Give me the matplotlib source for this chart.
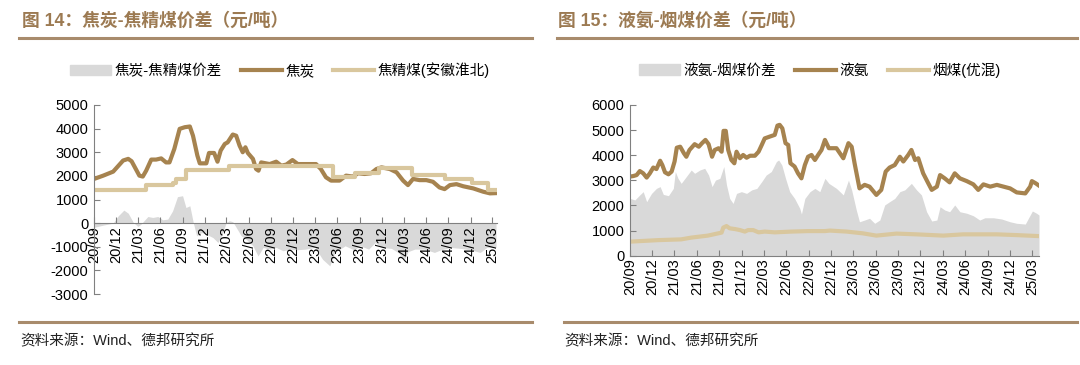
import pandas as pd
import matplotlib.pyplot as plt
import matplotlib.dates as mdates
from matplotlib.lines import Line2D
from matplotlib.patches import Patch

plt.rcParams['font.family'] = ['Liberation Sans', 'Noto Sans CJK SC']
plt.rcParams['axes.unicode_minus'] = False

# ---- data: chart 14 ----
coke_dates = ['2020-09-01', '2020-10-09', '2020-11-19', '2020-12-30', '2021-01-20', '2021-02-03',
              '2021-03-07', '2021-03-21', '2021-04-04', '2021-04-25', '2021-05-15', '2021-06-05',
              '2021-06-25', '2021-07-09', '2021-07-29', '2021-08-20', '2021-09-10', '2021-10-01',
              '2021-10-14', '2021-11-01', '2021-11-11', '2021-12-08', '2021-12-19', '2022-01-09',
              '2022-01-23', '2022-02-05', '2022-02-22', '2022-03-06', '2022-03-27', '2022-04-10',
              '2022-04-24', '2022-05-07', '2022-05-18', '2022-05-28', '2022-06-18', '2022-07-01',
              '2022-07-11', '2022-07-22', '2022-08-26', '2022-09-22', '2022-10-13', '2022-11-03',
              '2022-11-28', '2022-12-20', '2023-03-05', '2023-03-25', '2023-04-15', '2023-05-06',
              '2023-06-10', '2023-07-07', '2023-08-04', '2023-08-25', '2023-09-21', '2023-10-18',
              '2023-11-09', '2023-11-30', '2024-01-03', '2024-01-31', '2024-02-27', '2024-03-18',
              '2024-04-08', '2024-05-05', '2024-06-02', '2024-06-29', '2024-07-26', '2024-08-16',
              '2024-09-07', '2024-10-04', '2024-11-01', '2024-12-12', '2025-01-22', '2025-02-19',
              '2025-03-16']
coke = [1870, 2010, 2180, 2650, 2720, 2620,
        2010, 1970, 2220, 2690, 2690, 2740,
        2570, 2570, 3140, 3990, 4060, 4090,
        3700, 2860, 2530, 2530, 2970, 2970,
        2600, 3070, 3350, 3420, 3750, 3700,
        3280, 3000, 3210, 2970, 2720, 2290,
        2220, 2570, 2500, 2600, 2430, 2480,
        2670, 2500, 2500, 2290, 1940, 1800,
        1800, 2010, 1970, 2110, 2080, 2110,
        2290, 2360, 2290, 2150, 1800, 1610,
        1870, 1820, 1820, 1750, 1510, 1440,
        1610, 1650, 1560, 1470, 1330, 1260,
        1270]

coal_dates = ['2020-09-01', '2021-04-04', '2021-07-22', '2021-08-05', '2021-09-14', '2022-03-13',
              '2023-05-13', '2023-08-11', '2023-11-20', '2024-04-05', '2024-08-16', '2024-12-05',
              '2025-02-12', '2025-03-16']
coal = [1390, 1610, 1700, 1850, 2260, 2430,
        1940, 2120, 2320, 2050, 1870, 1680,
        1400, 1400]

spread1_dates = ['2020-09-01', '2020-10-09', '2020-11-19', '2020-12-10', '2021-01-02', '2021-01-20',
                 '2021-02-10', '2021-03-01', '2021-03-14', '2021-04-11', '2021-05-01', '2021-05-22',
                 '2021-06-11', '2021-07-02', '2021-07-22', '2021-08-11', '2021-09-01', '2021-09-15',
                 '2021-10-01', '2021-10-15', '2021-10-29', '2021-11-18', '2021-12-08', '2022-01-04',
                 '2022-01-25', '2022-02-14', '2022-02-28', '2022-03-13', '2022-03-27', '2022-04-10',
                 '2022-05-01', '2022-05-21', '2022-06-18', '2022-07-09', '2022-07-30', '2022-08-26',
                 '2022-09-22', '2022-10-20', '2022-11-17', '2022-12-15', '2023-01-20', '2023-03-01',
                 '2023-04-01', '2023-05-01', '2023-05-22', '2023-06-12', '2023-07-03', '2023-08-08',
                 '2023-09-04', '2023-10-08', '2023-11-04', '2023-12-01', '2024-01-10', '2024-02-06',
                 '2024-03-04', '2024-03-18', '2024-04-15', '2024-05-25', '2024-07-05', '2024-08-01',
                 '2024-09-11', '2024-10-22', '2024-12-01', '2025-01-10', '2025-02-06', '2025-03-16']
spread1 = [-180, -85, 0, 310, 550, 420,
           30, -140, -40, 280, 240, 280,
           140, 170, 520, 1120, 1160, 660,
           735, 30, -540, -400, -470, -610,
           -820, -400, 30, 100, 60, -180,
           -540, -680, -960, -1390, -1030, -1100,
           -1030, -1170, -1100, -1130, -1100, -1030,
           -1530, -1810, -1240, -1100, -960, -1130,
           -960, -1100, -820, -1030, -1070, -1240,
           -1530, -1210, -1100, -1100, -1240, -1130,
           -1030, -1070, -1130, -1240, -1030, -1030]

# ---- data: chart 15 ----
ammonia_dates = ['2020-09-01', '2020-09-14', '2020-09-28', '2020-10-11', '2020-10-25', '2020-11-08',
                 '2020-11-21', '2020-12-05', '2020-12-18', '2021-01-02', '2021-01-11', '2021-01-22',
                 '2021-02-05', '2021-02-18', '2021-03-02', '2021-03-11', '2021-03-25', '2021-04-09',
                 '2021-04-19', '2021-05-02', '2021-05-23', '2021-06-09', '2021-06-22', '2021-07-06',
                 '2021-07-19', '2021-08-02', '2021-08-13', '2021-08-29', '2021-09-10', '2021-09-18',
                 '2021-09-27', '2021-10-07', '2021-10-20', '2021-11-01', '2021-11-10', '2021-11-24',
                 '2021-12-07', '2021-12-21', '2022-01-04', '2022-01-24', '2022-02-08', '2022-02-21',
                 '2022-03-05', '2022-03-25', '2022-04-15', '2022-04-26', '2022-05-05', '2022-05-16',
                 '2022-05-29', '2022-06-09', '2022-06-18', '2022-07-05', '2022-07-19', '2022-08-02',
                 '2022-08-16', '2022-08-29', '2022-09-12', '2022-09-26', '2022-10-09', '2022-10-23',
                 '2022-11-06', '2022-11-22', '2022-12-23', '2023-01-20', '2023-02-10', '2023-02-23',
                 '2023-03-07', '2023-03-27', '2023-04-17', '2023-05-07', '2023-06-04', '2023-06-24',
                 '2023-07-12', '2023-07-28', '2023-08-18', '2023-09-08', '2023-09-22', '2023-10-12',
                 '2023-10-25', '2023-11-09', '2023-11-22', '2023-12-12', '2024-01-02', '2024-01-16',
                 '2024-02-06', '2024-02-19', '2024-03-09', '2024-03-29', '2024-04-19', '2024-05-10',
                 '2024-06-07', '2024-07-04', '2024-07-24', '2024-08-14', '2024-09-11', '2024-10-08',
                 '2024-11-04', '2024-12-01', '2024-12-28', '2025-02-01', '2025-02-21', '2025-02-28',
                 '2025-03-16', '2025-03-29']
ammonia = [3150, 3170, 3210, 3370, 3280, 3110,
           3280, 3510, 3450, 3780, 3610, 3320,
           3240, 3350, 3750, 4300, 4340, 4080,
           3940, 4210, 4440, 4340, 4480, 4610,
           4440, 3940, 4210, 4280, 4140, 4970,
           4970, 4210, 3810, 3680, 4140, 3880,
           4010, 3900, 3980, 3980, 4140, 4410,
           4670, 4740, 4810, 5180, 5210, 5070,
           4480, 4410, 3680, 3550, 3280, 3080,
           3610, 3940, 4010, 3810, 4010, 4210,
           4610, 4280, 4280, 3880, 4480, 4340,
           3680, 2680, 2820, 2750, 2420, 2620,
           3350, 3510, 3610, 3940, 3750, 4010,
           4210, 3810, 3880, 3280, 2880, 2620,
           2750, 3210, 3080, 2920, 3280, 3080,
           2970, 2840, 2620, 2840, 2750, 2820,
           2750, 2680, 2520, 2480, 2750, 2970,
           2880, 2790]

coal2_dates = ['2020-09-01', '2020-12-25', '2021-03-29', '2021-05-09', '2021-07-16', '2021-08-27',
               '2021-09-10', '2021-09-17', '2021-09-30', '2021-10-13', '2021-11-04', '2021-11-24',
               '2021-12-14', '2021-12-27', '2022-01-17', '2022-02-08', '2022-03-05', '2022-04-15',
               '2022-06-22', '2022-08-29', '2022-11-06', '2022-11-26', '2023-02-03', '2023-04-10',
               '2023-06-04', '2023-08-25', '2023-11-15', '2024-03-03', '2024-05-23', '2024-10-08',
               '2024-12-28', '2025-03-29']
coal2 = [560, 620, 650, 720, 800, 890,
         920, 1120, 1180, 1090, 1060, 1020,
         960, 1020, 1020, 930, 960, 930,
         960, 980, 980, 1000, 960, 890,
         800, 880, 850, 800, 850, 850,
         820, 780]

spread2_dates = ['2020-09-01', '2020-09-21', '2020-10-11', '2020-10-25', '2020-11-08', '2020-11-28',
                 '2020-12-18', '2021-01-02', '2021-01-15', '2021-02-05', '2021-02-25', '2021-03-05',
                 '2021-03-16', '2021-03-29', '2021-04-19', '2021-05-09', '2021-05-23', '2021-06-13',
                 '2021-07-03', '2021-07-19', '2021-08-02', '2021-08-16', '2021-09-03', '2021-09-19',
                 '2021-09-30', '2021-10-13', '2021-10-27', '2021-11-10', '2021-11-30', '2021-12-21',
                 '2022-01-11', '2022-02-01', '2022-02-21', '2022-03-11', '2022-04-01', '2022-04-22',
                 '2022-05-01', '2022-05-14', '2022-05-29', '2022-06-15', '2022-07-05', '2022-07-26',
                 '2022-08-02', '2022-08-16', '2022-09-06', '2022-09-26', '2022-10-16', '2022-11-06',
                 '2022-11-22', '2022-12-23', '2023-01-20', '2023-02-10', '2023-02-23', '2023-03-14',
                 '2023-03-27', '2023-04-17', '2023-05-07', '2023-05-28', '2023-06-18', '2023-07-08',
                 '2023-07-28', '2023-08-18', '2023-09-08', '2023-09-28', '2023-10-25', '2023-11-15',
                 '2023-12-05', '2023-12-26', '2024-01-16', '2024-02-06', '2024-02-19', '2024-03-09',
                 '2024-03-29', '2024-04-19', '2024-05-10', '2024-06-07', '2024-07-04', '2024-07-30',
                 '2024-08-20', '2024-09-24', '2024-10-28', '2024-12-01', '2024-12-28', '2025-02-01',
                 '2025-02-21', '2025-03-02', '2025-03-19', '2025-03-29']
spread2 = [2280, 2220, 2420, 2550, 2150, 2480,
           2680, 2750, 2440, 2390, 2680, 3350,
           3080, 2880, 3150, 3410, 3280, 3410,
           3480, 3210, 2750, 3010, 3080, 3550,
           2820, 2280, 2080, 2480, 2550, 2480,
           2620, 2680, 2950, 3210, 3350, 3750,
           3810, 3610, 3080, 2550, 2280, 1890,
           1660, 2280, 2550, 2680, 2550, 3080,
           2880, 2680, 2420, 3010, 2620, 1820,
           1350, 1420, 1490, 1290, 1420, 2020,
           2150, 2280, 2550, 2620, 2880, 2620,
           2420, 1750, 1380, 1420, 1950, 1820,
           1750, 2020, 1750, 1690, 1590, 1420,
           1510, 1510, 1460, 1350, 1290, 1260,
           1620, 1780, 1690, 1620]

DARK = '#A6834F'
LIGHT = '#D9C79E'
GRAY = '#D9D9D9'
BROWN = '#9C7A52'
RULE = '#A88B6C'

fig = plt.figure(figsize=(10.8, 3.65), dpi=100)


def style_axis(ax, xmax):
    ax.set_xlim(pd.Timestamp('2020-09-01'), pd.Timestamp(xmax))
    ax.xaxis.set_major_locator(mdates.MonthLocator(bymonth=[3, 6, 9, 12]))
    ax.xaxis.set_major_formatter(mdates.DateFormatter('%y/%m'))
    for s in ['top', 'right']:
        ax.spines[s].set_visible(False)
    for s in ['left', 'bottom']:
        ax.spines[s].set_color('#808080')
        ax.spines[s].set_linewidth(0.8)
    ax.tick_params(axis='x', direction='in', length=4, color='#808080', labelsize=10.5,
                   labelrotation=90, pad=2)
    ax.tick_params(axis='y', direction='in', length=4, color='#808080', labelsize=10.5, pad=4)
    for lab in ax.get_xticklabels():
        lab.set_ha('center')


def legend(x, handles, labels):
    fig.legend(handles, labels, loc='center', bbox_to_anchor=(x, 1 - 70 / 365), ncol=3,
               frameon=False, fontsize=10.5, handlelength=2.8, handletextpad=0.25,
               columnspacing=1.3, borderaxespad=0)


# ---- left chart ----
ax1 = fig.add_axes([94 / 1080, 1 - 294 / 365, 403 / 1080, 189 / 365])
ax1.fill_between(pd.to_datetime(spread1_dates), 0, spread1, color=GRAY, lw=0)
ax1.plot(pd.to_datetime(coke_dates), coke, color=DARK, lw=3)
ax1.plot(pd.to_datetime(coal_dates), coal, color=LIGHT, lw=3, drawstyle='steps-post')
ax1.set_ylim(-3000, 5000)
ax1.set_yticks(range(-3000, 5001, 1000))
style_axis(ax1, '2025-03-20')
ax1.spines['bottom'].set_position(('data', 0))

legend(280 / 1080,
       [Patch(color=GRAY), Line2D([], [], color=DARK, lw=3), Line2D([], [], color=LIGHT, lw=3)],
       ['焦炭-焦精煤价差', '焦炭', '焦精煤(安徽淮北)'])

# ---- right chart ----
ax2 = fig.add_axes([630 / 1080, 1 - 255.7 / 365, 409 / 1080, 150.7 / 365])
ax2.fill_between(pd.to_datetime(spread2_dates), 0, spread2, color=GRAY, lw=0)
ax2.plot(pd.to_datetime(ammonia_dates), ammonia, color=DARK, lw=3)
ax2.plot(pd.to_datetime(coal2_dates), coal2, color=LIGHT, lw=3)
ax2.set_ylim(0, 6000)
ax2.set_yticks(range(0, 6001, 1000))
style_axis(ax2, '2025-03-29')

legend(820 / 1080,
       [Patch(color=GRAY), Line2D([], [], color=DARK, lw=3), Line2D([], [], color=LIGHT, lw=3)],
       ['液氨-烟煤价差', '液氨', '烟煤(优混)'])

# ---- titles, rules, footers ----
fig.text(22 / 1080, 1 - 20.5 / 365, '图 14：焦炭-焦精煤价差（元/吨）', fontsize=12.8,
         fontweight='bold', color=BROWN, va='center', ha='left')
fig.text(558 / 1080, 1 - 20.5 / 365, '图 15：液氨-烟煤价差（元/吨）', fontsize=12.8,
         fontweight='bold', color=BROWN, va='center', ha='left')
for x0, x1 in [(19, 532), (557, 1077)]:
    fig.add_artist(Line2D([x0 / 1080, x1 / 1080], [1 - 38 / 365] * 2, color=RULE, lw=2.2))
for x0, x1 in [(19, 532), (564, 1077)]:
    fig.add_artist(Line2D([x0 / 1080, x1 / 1080], [1 - 322 / 365] * 2, color=RULE, lw=2.2))
fig.text(20 / 1080, 1 - 341 / 365, '资料来源：Wind、德邦研究所', fontsize=10.5,
         color='#222222', va='center', ha='left')
fig.text(564 / 1080, 1 - 341 / 365, '资料来源：Wind、德邦研究所', fontsize=10.5,
         color='#222222', va='center', ha='left')

fig.savefig('out.png', dpi=100)
